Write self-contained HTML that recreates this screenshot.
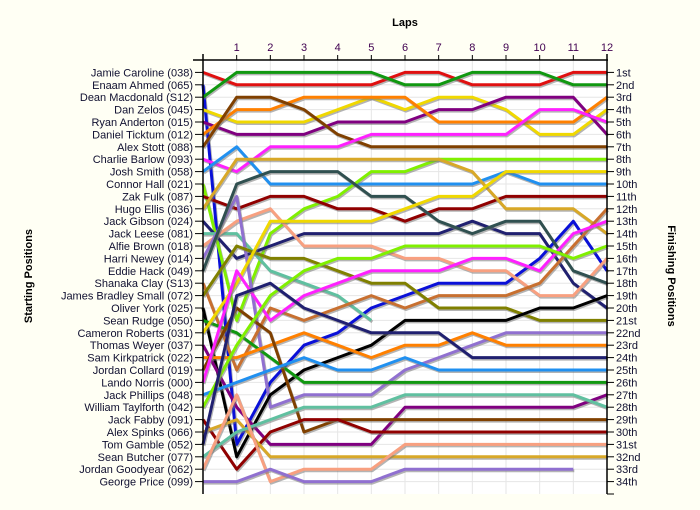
<!DOCTYPE html>
<html><head><meta charset="utf-8">
<style>
body{margin:0;background:#fffff4;}
svg{display:block;font-family:"Liberation Sans",sans-serif;}
</style></head>
<body>
<svg id="chart" width="700" height="510" viewBox="0 0 700 510" xmlns="http://www.w3.org/2000/svg">
<rect x="0" y="0" width="700" height="510" fill="#fffff4"/>
<rect x="203" y="60" width="404" height="434" fill="#ffffff"/>
<g id="grid"></g>
<g id="series"></g>
<g id="axes"></g>
<text x="405" y="26" text-anchor="middle" font-size="11" font-weight="bold" fill="#000">Laps</text>
<text transform="translate(32,276) rotate(-90)" text-anchor="middle" font-size="11" font-weight="bold" fill="#000">Starting Positions</text>
<text transform="translate(668,276) rotate(90)" text-anchor="middle" font-size="11" font-weight="bold" fill="#000">Finishing Positions</text>
</svg>
<script>
const laps = [0,1,2,3,4,5,6,7,8,9,10,11,12];
const drivers = ["Jamie Caroline (038)","Enaam Ahmed (065)","Dean Macdonald (S12)","Dan Zelos (045)","Ryan Anderton (015)","Daniel Ticktum (012)","Alex Stott (088)","Charlie Barlow (093)","Josh Smith (058)","Connor Hall (021)","Zak Fulk (087)","Hugo Ellis (036)","Jack Gibson (024)","Jack Leese (081)","Alfie Brown (018)","Harri Newey (014)","Eddie Hack (049)","Shanaka Clay (S13)","James Bradley Small (072)","Oliver York (025)","Sean Rudge (050)","Cameron Roberts (031)","Thomas Weyer (037)","Sam Kirkpatrick (022)","Jordan Collard (019)","Lando Norris (000)","Jack Phillips (048)","William Taylforth (042)","Jack Fabby (091)","Alex Spinks (066)","Tom Gamble (052)","Sean Butcher (077)","Jordan Goodyear (062)","George Price (099)"];
const finishLabels = ["1st","2nd","3rd","4th","5th","6th","7th","8th","9th","10th","11th","12th","13th","14th","15th","16th","17th","18th","19th","20th","21st","22nd","23rd","24th","25th","26th","27th","28th","29th","30th","31st","32nd","33rd","34th"];
const colors = ["#e01010","#0a10d8","#109810","#f0d800","#800080","#ff8000","#804000","#ff20ff","#2090f0","#80f000","#900000","#d8a828","#202070","#60c0a0","#f8a080","#9070d0","#305050","#c87030","#808000","#000000","#109810","#f0d800","#800080","#ff8000","#804000","#ff20ff","#2090f0","#80f000","#900000","#d8a828","#202070","#60c0a0","#f8a080","#9070d0"];
const pos01 = [1,2,2,2,2,2,1,1,2,2,2,1,1];
const pos02 = [2,31,26,23,22,20,19,18,18,18,16,13,17];
const pos03 = [3,1,1,1,1,1,2,2,1,1,1,2,2];
const pos04 = [4,5,5,5,4,3,4,3,3,4,6,6,4];
const pos05 = [5,6,6,6,5,5,5,4,4,3,3,3,6];
const pos06 = [6,4,4,3,3,3,3,5,5,5,5,5,3];
const pos07 = [7,3,3,4,6,7,7,7,7,7,7,7,7];
const pos08 = [8,9,7,7,7,6,6,6,6,6,4,4,5];
const pos09 = [9,7,10,10,10,10,10,10,10,9,10,10,10];
const pos10 = [10,21,14,12,11,9,9,8,8,8,8,8,8];
const pos11 = [11,12,11,11,12,12,13,12,12,11,11,11,11];
const pos12 = [12,8,8,8,8,8,8,8,9,12,12,12,14];
const pos13 = [13,16,15,14,14,14,14,14,13,14,14,18,20];
const pos14 = [14,14,17,18,19,21,null,null,null,null,null,null,null];
const pos15 = [15,13,12,15,15,15,16,16,17,17,19,19,16];
const pos16 = [16,11,28,27,27,27,25,24,23,22,22,22,22];
const pos17 = [17,10,9,9,9,11,11,13,14,13,13,17,18];
const pos18 = [18,25,20,21,20,19,20,19,19,19,18,15,12];
const pos19 = [19,15,16,16,17,18,18,20,20,20,21,21,21];
const pos20 = [20,32,27,25,24,23,21,21,21,21,20,20,19];
const pos21 = [21,22,24,26,26,26,26,26,26,26,26,26,26];
const pos22 = [22,18,13,13,13,13,12,11,11,9,9,9,9];
const pos23 = [23,28,31,31,31,31,28,28,28,28,28,28,27];
const pos24 = [24,24,23,22,23,24,23,23,22,23,23,23,23];
const pos25 = [25,20,22,30,29,29,29,29,29,29,29,29,29];
const pos26 = [26,17,21,19,18,17,17,17,16,16,17,14,13];
const pos27 = [27,26,25,24,25,25,24,25,25,25,25,25,25];
const pos28 = [28,23,19,17,16,16,15,15,15,15,15,16,15];
const pos29 = [29,33,30,29,29,30,30,30,30,30,30,30,30];
const pos30 = [30,29,32,32,32,32,32,32,32,32,32,32,32];
const pos31 = [31,19,18,20,21,22,22,22,24,24,24,24,24];
const pos32 = [32,30,29,28,28,28,27,27,27,27,27,27,28];
const pos33 = [33,27,34,33,33,33,31,31,31,31,31,31,31];
const pos34 = [34,34,33,34,34,34,33,33,33,33,33,33,null];
const positions = [pos01,pos02,pos03,pos04,pos05,pos06,pos07,pos08,pos09,pos10,pos11,pos12,pos13,pos14,pos15,pos16,pos17,pos18,pos19,pos20,pos21,pos22,pos23,pos24,pos25,pos26,pos27,pos28,pos29,pos30,pos31,pos32,pos33,pos34];

const NS = "http://www.w3.org/2000/svg";
const X0 = 203, X1 = 607, YTOP = 60, YBOT = 494;
const maxLap = laps[laps.length-1];
const nRows = drivers.length;
const rowH = (YBOT - YTOP) / (nRows + 1);
function xScale(l){ return X0 + (X1 - X0) * l / maxLap; }
function yScale(p){ return YTOP + p * rowH; }
function mk(tag, attrs, parent){ const e = document.createElementNS(NS, tag); for (const k in attrs) e.setAttribute(k, attrs[k]); parent.appendChild(e); return e; }

const grid = document.getElementById('grid');
const axes = document.getElementById('axes');
const series = document.getElementById('series');

for (let p = 1; p <= nRows; p++) {
  const g = mk('line', {x1:X0, x2:X1, y1:yScale(p), y2:yScale(p), stroke:'#e6e6e6', 'stroke-width':1}, grid);
  
  
}
laps.forEach(l => {
  if (l === 0) return;
  const g = mk('line', {x1:xScale(l), x2:xScale(l), y1:YTOP, y2:YBOT, stroke:'#e6e6e6', 'stroke-width':1}, grid);
  
  
});

// series
positions.forEach((arr, i) => {
  const pts = [];
  arr.forEach((p, j) => { if (p !== null) pts.push(xScale(laps[j]).toFixed(1) + ',' + yScale(p).toFixed(1)); });
  const sh = mk('polyline', {points: pts.join(' '), fill:'none', stroke:'#777', 'stroke-opacity':0.55, 'stroke-width':3, 'stroke-linejoin':'round', transform:'translate(1,1.5)'}, series);
  
  
  const ln = mk('polyline', {points: pts.join(' '), fill:'none', stroke:colors[i], 'stroke-width':3, 'stroke-linejoin':'round'}, series);
  
  
});

// axes
const topAx = mk('line', {x1:X0-10, x2:X1+1, y1:YTOP, y2:YTOP, stroke:'#000', 'stroke-width':1.5}, axes);


const leftAx = mk('line', {x1:X0, x2:X0, y1:YTOP-6, y2:YBOT, stroke:'#000', 'stroke-width':1.5}, axes);


const rightAx = mk('line', {x1:X1, x2:X1, y1:YTOP-6, y2:YBOT, stroke:'#000', 'stroke-width':1.5}, axes);


const bt = mk('line', {x1:X1, x2:X1+7, y1:YBOT, y2:YBOT, stroke:'#000', 'stroke-width':1}, axes);



laps.forEach(l => {
  if (l === 0) return;
  const t = mk('line', {x1:xScale(l), x2:xScale(l), y1:YTOP-5, y2:YTOP, stroke:'#000', 'stroke-width':1}, axes);
  
  
  const tx = mk('text', {x:xScale(l), y:YTOP-9, 'text-anchor':'middle', 'font-size':11, fill:'#400050'}, axes);
  tx.textContent = String(l);
  
  
});
drivers.forEach((d, i) => {
  const y = yScale(i+1);
  const t = mk('line', {x1:X0-8, x2:X0, y1:y, y2:y, stroke:'#000', 'stroke-width':1}, axes);
  
  
  const tx = mk('text', {x:X0-10, y:y+4, 'text-anchor':'end', 'font-size':11, fill:'#101030'}, axes);
  tx.textContent = d;
  
  
});
finishLabels.forEach((f, i) => {
  const y = yScale(i+1);
  const t = mk('line', {x1:X1, x2:X1+7, y1:y, y2:y, stroke:'#000', 'stroke-width':1}, axes);
  
  
  const tx = mk('text', {x:X1+9, y:y+4, 'text-anchor':'start', 'font-size':11, fill:'#101030'}, axes);
  tx.textContent = f;
  
  
});
</script>
</body></html>
